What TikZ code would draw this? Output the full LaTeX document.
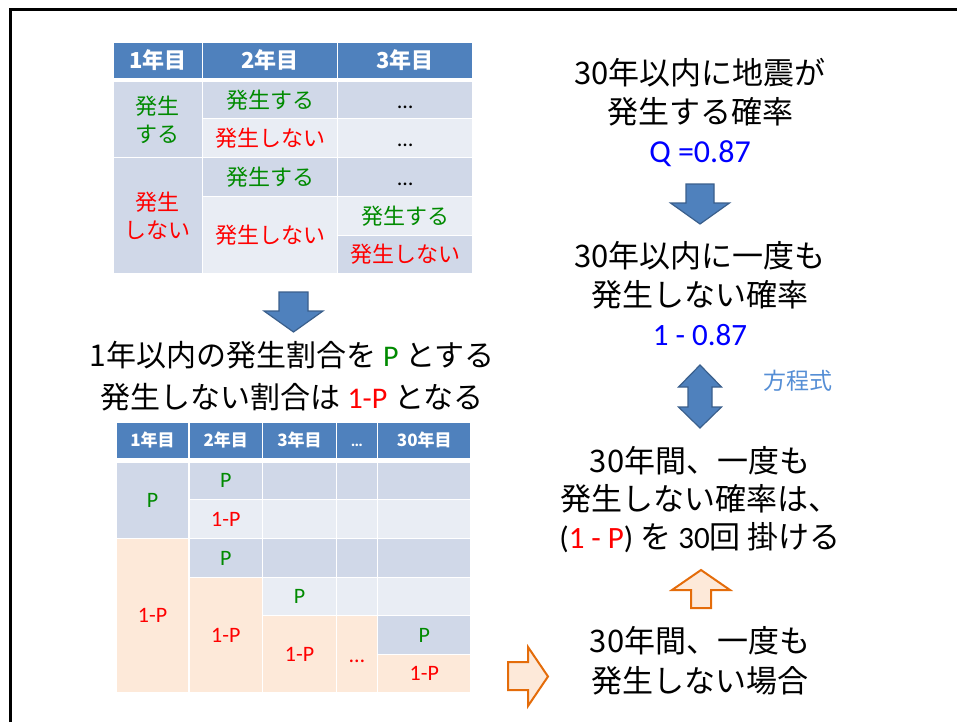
\documentclass[tikz,border=0pt]{standalone}
\usepackage{fontspec}
\setmainfont{Noto Sans CJK JP}
\newfontfamily\jp{Noto Sans CJK JP}
\newfontfamily\lat{Carlito}
\definecolor{hdr}{HTML}{4F81BD}
\definecolor{dk}{HTML}{D0D8E8}
\definecolor{lt}{HTML}{E9EDF4}
\definecolor{pch}{HTML}{FDE9D9}
\definecolor{tgreen}{HTML}{008A00}
\definecolor{tred}{HTML}{FF0000}
\definecolor{tblue}{HTML}{0000FF}
\definecolor{arrblue}{HTML}{4F81BD}
\definecolor{arrline}{HTML}{3A5F8C}
\definecolor{org}{HTML}{E46C0A}
\definecolor{eqblue}{HTML}{558ED5}
\tikzset{
  cellsty/.style={draw=white, line width=1.5pt, inner sep=0pt, outer sep=0pt, align=center},
  bluearrow/.style={fill=arrblue, draw=arrline, line width=1.2pt, line join=miter},
  orangearrow/.style={fill=pch, draw=org, line width=2pt, line join=miter},
  bigtext/.style={inner sep=0pt, align=center, text=black},
}
\newcommand\cellbox[7]{\node[cellsty, fill=#6, minimum width={#4-#2}, minimum height={#5-#3}] (#1) at ({(#2+#4)/2},{(#3+#5)/2}) {#7};}
\newcommand\hd[1]{{\color{white}\bfseries #1}}
\newcommand\gr[1]{{\color{tgreen}#1}}
\newcommand\rd[1]{{\color{tred}#1}}
\newcommand\mydots{\vphantom{\jp 発}{\lat …}}
\begin{document}
\begin{tikzpicture}[x=1pt,y=-1pt]
\useasboundingbox (0,0) rectangle (957,722);
% frame
\draw[line width=3pt] (10.5,722) -- (10.5,9.5) -- (957,9.5);

% ---------- top table ----------
\begin{scope}[font=\fontsize{22}{28}\selectfont]
\cellbox{th1}{113}{42}{202.5}{79}{hdr}{\hd{1年目}}
\cellbox{th2}{202.5}{42}{337.5}{79}{hdr}{\hd{2年目}}
\cellbox{th3}{337.5}{42}{473}{79}{hdr}{\hd{3年目}}
\cellbox{t11}{113}{81.5}{202.5}{157.5}{dk}{\gr{発生}\\\gr{する}}
\cellbox{t12}{202.5}{81.5}{337.5}{118.5}{dk}{\gr{発生する}}
\cellbox{t13}{337.5}{81.5}{473}{118.5}{dk}{\mydots}
\cellbox{t22}{202.5}{118.5}{337.5}{157.5}{lt}{\rd{発生しない}}
\cellbox{t23}{337.5}{118.5}{473}{157.5}{lt}{\mydots}
\cellbox{t31}{113}{157.5}{202.5}{273.5}{dk}{\rd{発生}\\\rd{しない}}
\cellbox{t32}{202.5}{157.5}{337.5}{196.5}{dk}{\gr{発生する}}
\cellbox{t33}{337.5}{157.5}{473}{196.5}{dk}{\mydots}
\cellbox{t42}{202.5}{196.5}{337.5}{273.5}{lt}{\rd{発生しない}}
\cellbox{t43}{337.5}{196.5}{473}{235.5}{lt}{\gr{発生する}}
\cellbox{t53}{337.5}{235.5}{473}{273.5}{dk}{\rd{発生しない}}
\end{scope}

% ---------- bottom table ----------
\begin{scope}[font=\fontsize{17}{20}\selectfont]
\cellbox{bh1}{116}{422}{189}{459}{hdr}{\hd{1年目}}
\cellbox{bh2}{189}{422}{262.5}{459}{hdr}{\hd{2年目}}
\cellbox{bh3}{262.5}{422}{336.5}{459}{hdr}{\hd{3年目}}
\cellbox{bh4}{336.5}{422}{377.5}{459}{hdr}{\hd{\mydots}}
\cellbox{bh5}{377.5}{422}{471}{459}{hdr}{\hd{30年目}}
\end{scope}
\begin{scope}[font=\fontsize{22}{26}\selectfont\lat]
% col1
\cellbox{b11}{116}{462}{189}{538.5}{dk}{\gr{P}}
\cellbox{b31}{116}{538.5}{189}{692.5}{pch}{\rd{1-P}}
% col2
\cellbox{b12}{189}{462}{262.5}{499.5}{dk}{\gr{P}}
\cellbox{b22}{189}{499.5}{262.5}{538.5}{lt}{\rd{1-P}}
\cellbox{b32}{189}{538.5}{262.5}{577.5}{dk}{\gr{P}}
\cellbox{b42}{189}{577.5}{262.5}{692.5}{pch}{\rd{1-P}}
% col3
\cellbox{b13}{262.5}{462}{336.5}{499.5}{dk}{}
\cellbox{b23}{262.5}{499.5}{336.5}{538.5}{lt}{}
\cellbox{b33}{262.5}{538.5}{336.5}{577.5}{dk}{}
\cellbox{b43}{262.5}{577.5}{336.5}{615.5}{lt}{\gr{P}}
\cellbox{b53}{262.5}{615.5}{336.5}{692.5}{pch}{\rd{1-P}}
% col4
\cellbox{b14}{336.5}{462}{377.5}{499.5}{dk}{}
\cellbox{b24}{336.5}{499.5}{377.5}{538.5}{lt}{}
\cellbox{b34}{336.5}{538.5}{377.5}{577.5}{dk}{}
\cellbox{b44}{336.5}{577.5}{377.5}{615.5}{lt}{}
\cellbox{b54}{336.5}{615.5}{377.5}{692.5}{pch}{\rd{\mydots}}
% col5
\cellbox{b15}{377.5}{462}{471}{499.5}{dk}{}
\cellbox{b25}{377.5}{499.5}{471}{538.5}{lt}{}
\cellbox{b35}{377.5}{538.5}{471}{577.5}{dk}{}
\cellbox{b45}{377.5}{577.5}{471}{615.5}{lt}{}
\cellbox{b55}{377.5}{615.5}{471}{654.5}{dk}{\gr{P}}
\cellbox{b65}{377.5}{654.5}{471}{692.5}{pch}{\rd{1-P}}
\end{scope}

% ---------- middle text ----------
\node[bigtext, font=\fontsize{30}{42}\selectfont] (mid) at (292,376.5)
  {1年以内の発生割合を {\lat\gr{P}} とする\\発生しない割合は {\lat\rd{1-P}} となる};

% ---------- right texts ----------
\node[bigtext, font=\fontsize{31}{39}\selectfont] (qa) at (700,112.5)
  {30年以内に地震が\\発生する確率\\{\lat\fontsize{32}{39}\selectfont\color{tblue}Q =0.87}};
\node[bigtext, font=\fontsize{31}{39}\selectfont] (qb) at (700,294)
  {30年以内に一度も\\発生しない確率\\{\lat\color{tblue}1 - 0.87}};
\node[bigtext, font=\fontsize{31}{38}\selectfont] (qc) at (700,500)
  {30年間、一度も\\発生しない確率は、\\{\lat(\rd{1 - P})} を {\lat 30}回 掛ける};
\node[bigtext, font=\fontsize{31}{40}\selectfont] (qd) at (700,660.5)
  {30年間、一度も\\発生しない場合};
\node[bigtext, font=\fontsize{23}{26}\selectfont, text=eqblue] (eq) at (798,381) {方程式};

% ---------- arrows ----------
\draw[bluearrow] (279,292) -- (308,292) -- (308,311) -- (323,311) -- (293.5,332) -- (264,311) -- (279,311) -- cycle;
\draw[bluearrow] (686,184) -- (714,184) -- (714,203) -- (729.5,203) -- (700,224) -- (670.5,203) -- (686,203) -- cycle;
\draw[bluearrow] (700,365) -- (721.5,387) -- (712,387) -- (712,407) -- (721.5,407) -- (700,428) -- (678.5,407) -- (688,407) -- (688,387) -- (678.5,387) -- cycle;
\draw[orangearrow] (701,570) -- (730,590) -- (711,590) -- (711,608) -- (691,608) -- (691,590) -- (672,590) -- cycle;
\draw[orangearrow] (508,662) -- (528,662) -- (528,647) -- (548,676.5) -- (528,706) -- (528,690) -- (508,690) -- cycle;
\end{tikzpicture}
\end{document}
